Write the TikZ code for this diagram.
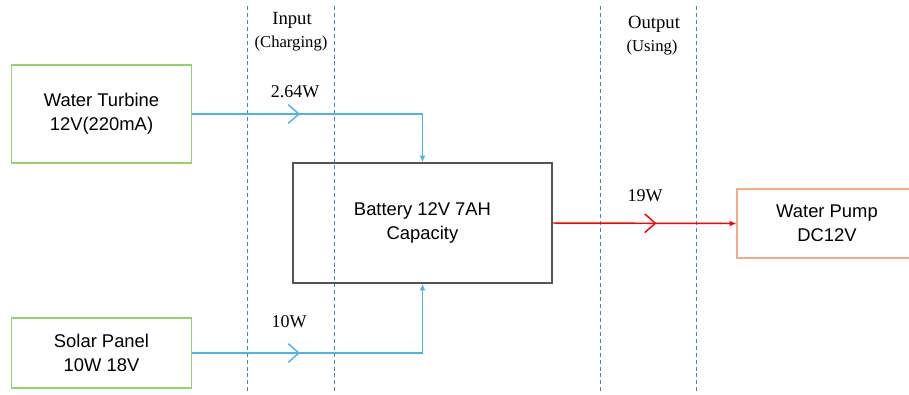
\documentclass[tikz,border=0pt]{standalone}
\usepackage{fontspec}
\setmainfont{Liberation Serif}
\setsansfont{Liberation Sans}
\usetikzlibrary{arrows.meta,decorations.markings}
\definecolor{boxgreen}{HTML}{92D36E}
\definecolor{flowblue}{HTML}{4FB3E8}
\definecolor{zoneline}{HTML}{4A86A6}
\definecolor{pumporange}{HTML}{F2AB86}
\definecolor{battgray}{HTML}{555555}
\tikzset{
  unitbox/.style={draw, line width=1.1pt, align=center, font=\sffamily\fontsize{13.8}{18}\selectfont, inner sep=0pt},
  zone/.style={draw=zoneline, line width=0.6pt, dash pattern=on 3pt off 2.2pt},
  flow/.style={line width=1.1pt, -{Latex[length=5pt,width=4.5pt]}},
  chev/.style={postaction={decorate, decoration={markings, mark=at position #1 with {\draw[line width=1.1pt,-] (-8pt,7pt) -- (0,0) -- (-8pt,-7pt);}}}},
  lbl/.style={font=\fontsize{13.5}{16}\selectfont, inner sep=0pt},
  zlbl/.style={font=\fontsize{14}{16}\selectfont, inner sep=0pt},
  zsub/.style={font=\fontsize{12.5}{14}\selectfont, inner sep=0pt}
}
\begin{document}
\begin{tikzpicture}[x=0.75pt,y=-0.75pt]
\useasboundingbox (0,0) rectangle (909,394);
% zone separators
\draw[zone] (247,6) coordinate (z1t) -- (247,394) coordinate (z1b);
\draw[zone] (334,6) coordinate (z2t) -- (334,394) coordinate (z2b);
\draw[zone] (600,6) coordinate (z3t) -- (600,394) coordinate (z3b);
\draw[zone] (696,6) coordinate (z4t) -- (696,394) coordinate (z4b);
% zone labels
\node[zlbl] (inlbl) at (292,20) {Input};
\node[zsub] (insub) at (291,44) {(Charging)};
\node[zlbl] (outlbl) at (654,24) {Output};
\node[zsub] (outsub) at (652,48) {(Using)};
% boxes
\node[unitbox, draw=boxgreen, minimum width=135pt, minimum height=73.5pt] (turb) at (101.5,114) {Water Turbine\\12V(220mA)};
\node[unitbox, draw=boxgreen, minimum width=135pt, minimum height=52.5pt] (solar) at (101.5,353) {Solar Panel\\10W 18V};
\node[unitbox, draw=battgray, minimum width=194.25pt, minimum height=90pt] (batt) at (422.5,223) {Battery 12V 7AH\\Capacity};
\node[unitbox, draw=pumporange, minimum width=135pt, minimum height=51.75pt] (pump) at (827,223.5) {Water Pump\\DC12V};
% flows
\draw[flow, draw=flowblue, chev={80pt}] (turb.east) -| (batt.north);
\draw[flow, draw=flowblue, chev={80pt}] (solar.east) -| (batt.south);
\draw[flow, draw=red, chev={77pt}] (batt.east) -- (pump.west);
% flow labels
\node[lbl] (p1) at (295,92) {2.64W};
\node[lbl] (p2) at (289,322) {10W};
\node[lbl] (p3) at (645,196) {19W};
\end{tikzpicture}
\end{document}
